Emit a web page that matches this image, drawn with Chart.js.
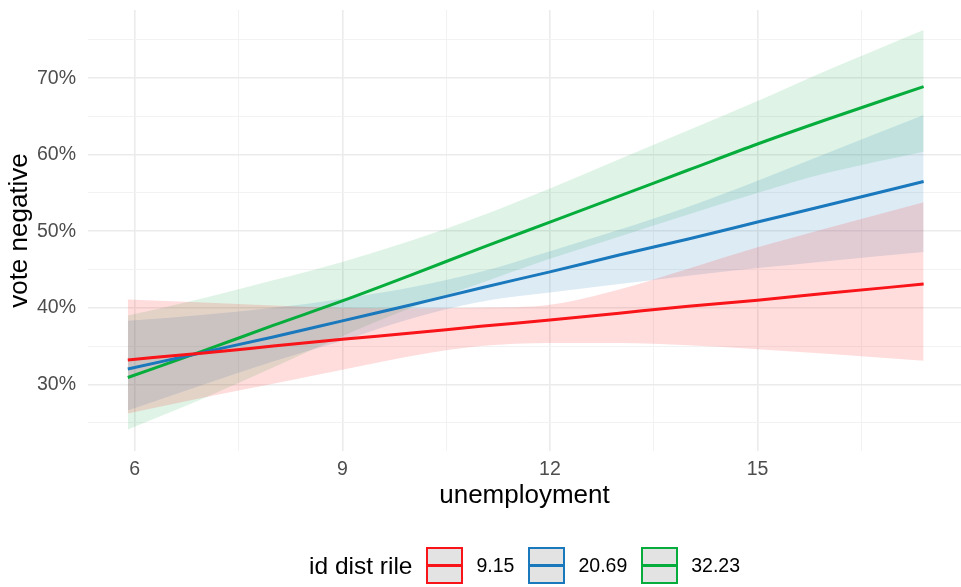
<!DOCTYPE html>
<html>
<head>
<meta charset="utf-8">
<title>vote negative vs unemployment</title>
<script src="https://cdn.jsdelivr.net/npm/chart.js@4.4.1/dist/chart.umd.min.js"></script>
<style>
  html, body { margin: 0; padding: 0; background: #fff; }
  #wrap { position: relative; width: 961px; height: 587px; }
  #legend {
    position: absolute; left: 309px; top: 547px; height: 37px;
    display: flex; align-items: center;
    font-family: "Liberation Sans", Arial, sans-serif; color: #000;
  }
  #legend .title { font-size: 24.5px; margin-right: 14px; }
  #legend .key {
    width: 33px; height: 33px; border: 2px solid; background: #e3e3e3;
    position: relative;
  }
  #legend .key span {
    position: absolute; left: 0; right: 0; top: 15px; height: 3px;
  }
  #legend .label { font-size: 19.5px; margin: 0 14px 0 13px; }
</style>
</head>
<body>
<div id="wrap">
  <canvas id="chart" width="961" height="587"></canvas>
  <div id="legend"></div>
</div>
<script>
// x values where the fitted curves were read
const unemployment = [5.9, 7, 8, 9, 10, 11, 12, 13, 14, 15, 16, 17.4];

// id dist rile = 9.15
const fit915 = [33.2, 34.1, 35.0, 35.9, 36.7, 37.6, 38.4, 39.3, 40.2, 41.0, 41.9, 43.1];
const lwr915 = [26.2, 28.3, 30.1, 31.9, 33.7, 35.0, 35.4, 35.4, 35.1, 34.6, 34.0, 33.1];
const upr915 = [41.1, 40.7, 40.3, 40.0, 39.9, 40.0, 40.4, 42.4, 45.1, 47.9, 50.4, 53.8];

// id dist rile = 20.69
const fit2069 = [32.0, 34.2, 36.2, 38.3, 40.4, 42.6, 44.7, 46.9, 49.0, 51.2, 53.4, 56.5];
const lwr2069 = [26.6, 30.0, 33.0, 35.7, 38.6, 40.8, 42.0, 43.1, 44.2, 45.2, 46.1, 47.3];
const upr2069 = [38.3, 39.1, 40.0, 41.2, 42.7, 44.7, 47.4, 50.2, 53.2, 56.6, 60.2, 65.2];

// id dist rile = 32.23
const fit3223 = [30.9, 34.4, 37.7, 40.9, 44.3, 47.8, 51.2, 54.6, 58.0, 61.4, 64.6, 68.9];
const lwr3223 = [24.1, 28.2, 32.2, 36.3, 40.0, 43.2, 46.4, 49.3, 52.2, 55.0, 57.6, 60.4];
const upr3223 = [39.0, 41.3, 43.6, 46.0, 48.8, 52.0, 55.6, 59.4, 63.2, 67.0, 71.0, 76.3];

const seriesLabels = ['9.15', '20.69', '32.23'];
const seriesColors = ['#f81419', '#1a78bd', '#07ad3c'];
const bandColors = ['rgba(255,30,30,0.15)', 'rgba(30,120,190,0.15)', 'rgba(10,170,60,0.13)'];

const xMajor = [6, 9, 12, 15];
const xMinor = [7.5, 10.5, 13.5, 16.5];
const yMajor = [30, 40, 50, 60, 70];
const yMinor = [25, 35, 45, 55, 65, 75];

const FONT = '"Liberation Sans", Arial, sans-serif';

const pts = (ys) => ys.map((y, i) => ({ x: unemployment[i], y: y }));

const groups = [
    [fit915, lwr915, upr915],
    [fit2069, lwr2069, upr2069],
    [fit3223, lwr3223, upr3223]
];

const datasets = [];
groups.forEach(([fit, lwr, upr], i) => {
    datasets.push({
        label: seriesLabels[i] + ' upper',
        data: pts(upr),
        fill: '+1',
        backgroundColor: bandColors[i],
        borderWidth: 0,
        pointRadius: 0,
        cubicInterpolationMode: 'monotone',
        order: 1
    });
    datasets.push({
        label: seriesLabels[i] + ' lower',
        data: pts(lwr),
        fill: false,
        borderWidth: 0,
        pointRadius: 0,
        cubicInterpolationMode: 'monotone',
        order: 1
    });
});
groups.forEach(([fit], i) => {
    datasets.push({
        label: seriesLabels[i],
        data: pts(fit),
        fill: false,
        borderColor: seriesColors[i],
        borderWidth: 3,
        pointRadius: 0,
        cubicInterpolationMode: 'monotone',
        order: 0
    });
});

const gridColor = (major) => (c) => major.includes(c.tick.value) ? '#ebebeb' : '#f2f2f2';
const gridWidth = (major) => (c) => major.includes(c.tick.value) ? 1.6 : 1;

new Chart(document.getElementById('chart'), {
    type: 'line',
    data: { datasets: datasets },
    options: {
        responsive: false,
        animation: false,
        layout: { padding: { top: 10, left: 0, right: 0, bottom: 76 } },
        plugins: {
            legend: { display: false },
            tooltip: { enabled: false }
        },
        scales: {
            x: {
                type: 'linear',
                min: 5.325,
                max: 17.94,
                afterBuildTicks: (scale) => {
                    scale.ticks = [...xMajor, ...xMinor].sort((a, b) => a - b).map(v => ({ value: v }));
                },
                afterFit: (scale) => {
                    scale.height = 60;
                    scale.paddingLeft = 0;
                    scale.paddingRight = 0;
                },
                grid: { color: gridColor(xMajor), lineWidth: gridWidth(xMajor), drawTicks: false },
                border: { display: false },
                ticks: {
                    autoSkip: false,
                    maxRotation: 0,
                    padding: 7,
                    color: '#4d4d4d',
                    font: { family: FONT, size: 19.5 },
                    callback: (v) => xMajor.includes(v) ? String(v) : ''
                },
                title: {
                    display: true,
                    text: 'unemployment',
                    color: '#000',
                    padding: { top: 0, bottom: 0 },
                    font: { family: FONT, size: 26 }
                }
            },
            y: {
                min: 21.3,
                max: 78.9,
                afterBuildTicks: (scale) => {
                    scale.ticks = [...yMajor, ...yMinor].sort((a, b) => a - b).map(v => ({ value: v }));
                },
                afterFit: (scale) => {
                    scale.width = 88;
                    scale.paddingTop = 0;
                    scale.paddingBottom = 0;
                },
                grid: { color: gridColor(yMajor), lineWidth: gridWidth(yMajor), drawTicks: false },
                border: { display: false },
                ticks: {
                    autoSkip: false,
                    padding: 12,
                    color: '#4d4d4d',
                    font: { family: FONT, size: 19.5 },
                    callback: (v) => yMajor.includes(v) ? v + '%' : ''
                },
                title: {
                    display: true,
                    text: 'vote negative',
                    color: '#000',
                    padding: { top: 4, bottom: 0 },
                    font: { family: FONT, size: 26 }
                }
            }
        }
    }
});

// legend in the ggplot style: title on the left, boxed line keys
const legend = document.getElementById('legend');
const title = document.createElement('div');
title.className = 'title';
title.textContent = 'id dist rile';
legend.appendChild(title);
seriesLabels.forEach((lab, i) => {
    const key = document.createElement('div');
    key.className = 'key';
    key.style.borderColor = seriesColors[i];
    const line = document.createElement('span');
    line.style.background = seriesColors[i];
    key.appendChild(line);
    const text = document.createElement('div');
    text.className = 'label';
    text.textContent = lab;
    legend.appendChild(key);
    legend.appendChild(text);
});
</script>
</body>
</html>
